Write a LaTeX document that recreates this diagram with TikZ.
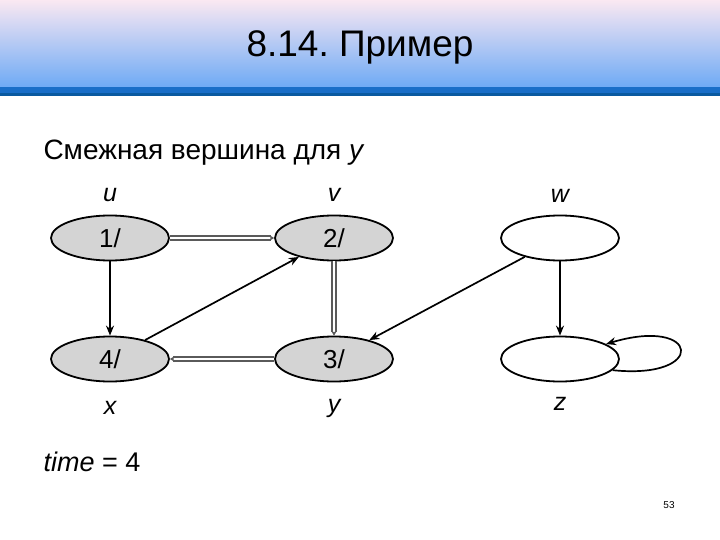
\documentclass[tikz,border=0pt]{standalone}
\usepackage{fontspec}
\setmainfont{Liberation Sans}
\usepackage{xcolor}
\usetikzlibrary{arrows.meta, shapes.geometric}
\definecolor{headtop}{RGB}{250,232,242}
\definecolor{headbot}{RGB}{110,170,245}
\definecolor{headline}{RGB}{25,110,200}
\definecolor{headdark}{RGB}{10,90,160}
\definecolor{vgray}{RGB}{212,212,212}
\definecolor{treegray}{RGB}{90,90,90}
\frenchspacing

\begin{document}
\begin{tikzpicture}[
  x=1pt, y=-1pt,
  vertex/.style={draw, ellipse, line width=1.8pt, minimum width=118pt, minimum height=45pt, inner sep=0pt, font=\fontsize{26}{28}\selectfont},
  seen/.style={vertex, fill=vgray},
  fresh/.style={vertex, fill=white},
  lbl/.style={font=\fontsize{25}{27}\selectfont\itshape},
  edge/.style={-{Stealth[length=10pt, width=8pt]}, line width=1.7pt},
  tree/.style={-{Stealth[length=5pt, width=6pt]}, draw=treegray, double=white, double distance=1.6pt, line width=2.6pt}
]
  \useasboundingbox (0,0) rectangle (720,540);

  % Define X and Y coordinates for the vertices
  \def\lX{110}
  \def\mX{334}
  \def\rX{560}
  \def\tY{238}
  \def\bY{359}

  % Header band with title
  \shade[top color=headtop, bottom color=headbot] (0,0) rectangle (720,87);
  \fill[headline] (0,87) rectangle (720,93);
  \fill[headdark] (0,93) rectangle (720,96);
  \node[font=\fontsize{37}{40}\selectfont] (title) at (360,47) {8.14. Пример};

  % Caption and time
  \node[anchor=west, font=\fontsize{28}{32}\selectfont] (caption) at (40,153) {Смежная вершина для \textit{y}};
  \node[anchor=west, font=\fontsize{27}{30}\selectfont] (time) at (40,462) {\textit{time} = 4};
  \node[font=\fontsize{10}{12}\selectfont] (page) at (669,505) {53};

  % Vertices
  \node[seen]  (u) at (\lX, \tY) {1/};
  \node[seen]  (v) at (\mX, \tY) {2/};
  \node[fresh] (w) at (\rX, \tY) {};
  \node[seen]  (x) at (\lX, \bY) {4/};
  \node[seen]  (y) at (\mX, \bY) {3/};
  \node[fresh] (z) at (\rX, \bY) {};

  % Vertex names
  \node[lbl] (ul) at (\lX, 195) {u};
  \node[lbl] (vl) at (\mX, 195) {v};
  \node[lbl] (wl) at (\rX, 196) {w};
  \node[lbl] (xl) at (\lX, 408) {x};
  \node[lbl] (yl) at (\mX, 408) {y};
  \node[lbl] (zl) at (\rX, 404) {z};

  % Tree edges
  \draw[tree] (u) -- (v);
  \draw[tree] (v) -- (y);
  \draw[tree] (y) -- (x);

  % Other edges
  \draw[edge] (u) -- (x);
  \draw[edge] (x) -- (v);
  \draw[edge] (w) -- (y);
  \draw[edge] (w) -- (z);
  \draw[edge] (z.-12) .. controls (708,380) and (700,316) .. (z.18);

\end{tikzpicture}
\end{document}
